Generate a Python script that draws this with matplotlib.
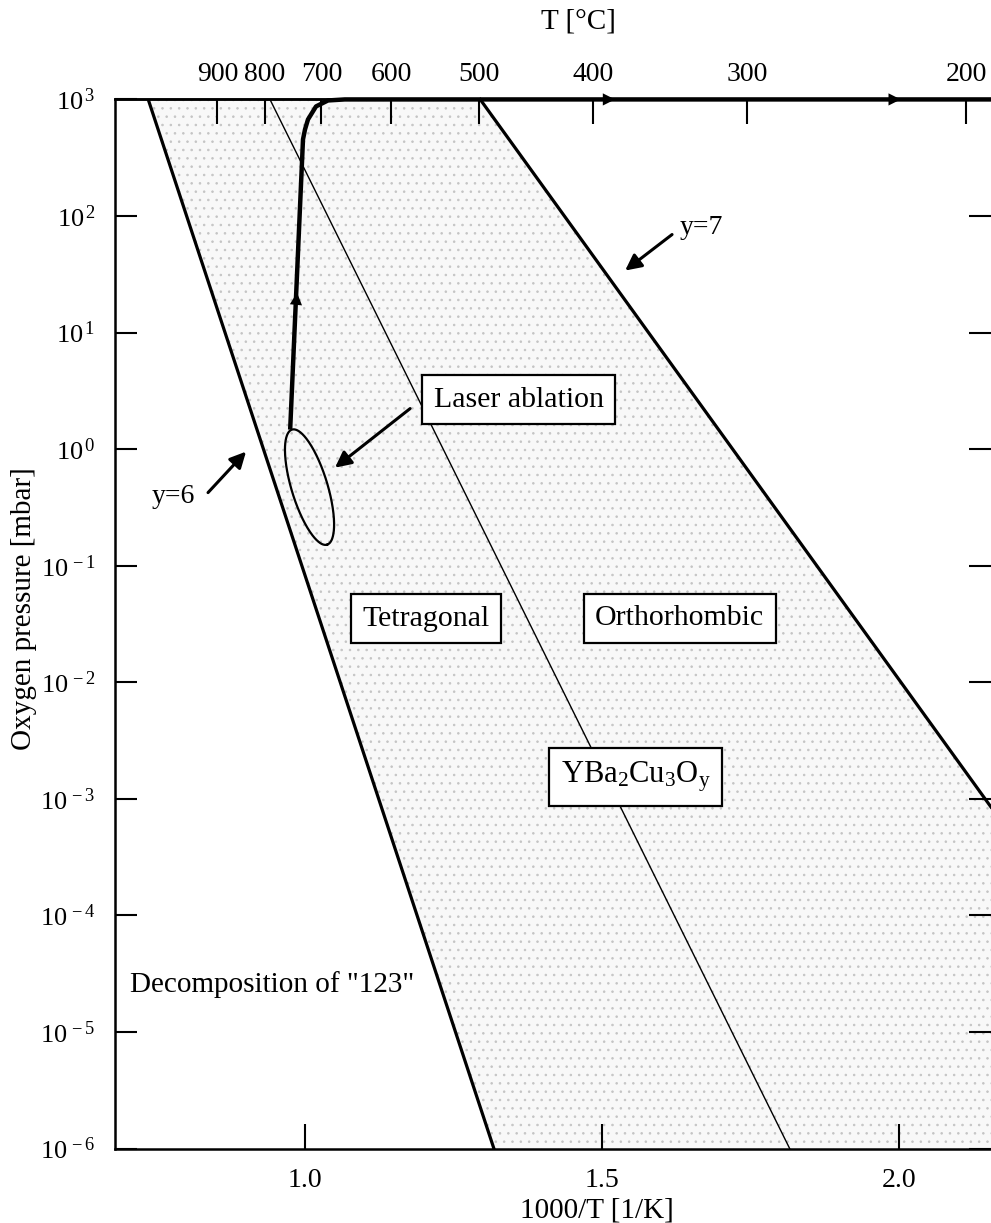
import numpy as np
import matplotlib.pyplot as plt
from matplotlib.ticker import FixedLocator, NullLocator, FuncFormatter

plt.rcParams['font.family'] = ['Liberation Serif', 'DejaVu Serif']
plt.rcParams['mathtext.fontset'] = 'custom'
plt.rcParams['mathtext.rm'] = 'Liberation Serif'
plt.rcParams['mathtext.it'] = 'Liberation Serif:italic'
plt.rcParams['hatch.linewidth'] = 0.6

# axes ranges and ticks
x_lim = (0.68, 2.155)
p_lim = (1e-6, 1e3)
x_ticks = [1.0, 1.5, 2.0]
p_exponents = list(range(-6, 4))
t_celsius = [900, 800, 700, 600, 500, 400, 300, 200]

# phase boundaries: 1000/T vs oxygen pressure
decomp_x = [0.736, 1.318]
decomp_p = [1e3, 1e-6]
tetra_ortho_x = [0.941, 1.816]
tetra_ortho_p = [1e3, 1e-6]
y7_x = [1.295, 2.155]
y7_p = [1e3, 8.5e-4]

# process path (laser ablation -> oxygen load -> cooling)
path_x = [0.975, 0.9966, 1.000, 1.005, 1.0185, 1.0387, 1.067, 2.155]
path_p = [1.47, 454, 553, 673, 871, 980, 1000, 1000]
arrow_x = [0.9866, 1.522, 2.003]
arrow_p = [22.0, 1000, 1000]

# laser ablation window (ellipse in 1000/T, log p)
ell_center = (1.0076, -0.326)
ell_major = (0.0295, -0.4936)
ell_minor = (0.029, 0.0447)

fig = plt.figure(figsize=(9.91, 12.23), dpi=100)
ax = fig.add_axes([0.116, 0.0609, 0.884, 0.8578])
ax.set_yscale('log')
ax.set_xlim(*x_lim)
ax.set_ylim(*p_lim)

# stippled stability region of YBa2Cu3Oy
logs = np.linspace(np.log10(p_lim[0]), np.log10(p_lim[1]), 300)
xl = np.interp(logs, np.log10(decomp_p)[::-1], decomp_x[::-1])
xr = np.interp(logs, np.log10(y7_p)[::-1], y7_x[::-1], left=x_lim[1])
ax.fill_betweenx(10 ** logs, xl, xr, facecolor='#f8f8f8', edgecolor='#c4c4c4',
                 hatch='..', linewidth=0, zorder=0)

ax.plot(decomp_x, decomp_p, color='black', lw=2.3, zorder=2)
ax.plot(tetra_ortho_x, tetra_ortho_p, color='black', lw=1.0, zorder=2)
ax.plot(y7_x, y7_p, color='black', lw=2.3, zorder=2, clip_on=False)

ax.plot(path_x, path_p, color='black', lw=3.2, zorder=3, clip_on=False,
        solid_capstyle='butt')
logp_path = np.log10(path_p)
for xa, pa in zip(arrow_x, arrow_p):
    if pa < 1000:
        lt = np.log10(pa) - 0.15
        xt = np.interp(lt, logp_path[:2], path_x[:2])
        start = (xt, 10 ** lt)
    else:
        start = (xa - 0.02, pa)
    ax.annotate('', xy=(xa, pa), xytext=start, zorder=4,
                arrowprops=dict(arrowstyle='-|>', color='black', lw=0,
                                mutation_scale=22, shrinkA=0, shrinkB=0))

t = np.linspace(0, 2 * np.pi, 300)
ex = ell_center[0] + ell_major[0] * np.cos(t) + ell_minor[0] * np.sin(t)
elog = ell_center[1] + ell_major[1] * np.cos(t) + ell_minor[1] * np.sin(t)
ax.plot(ex, 10 ** elog, color='black', lw=1.6, zorder=3)

# annotations
arrow_kw = dict(arrowstyle='-|>', color='black', lw=2.2, mutation_scale=24,
                shrinkA=0, shrinkB=0)
ax.annotate('', xy=(0.9007, 10 ** -0.0215), xytext=(0.8367, 10 ** -0.373),
            arrowprops=arrow_kw)
ax.text(0.778, 10 ** -0.408, 'y=6', fontsize=20, ha='center', va='center')
ax.annotate('', xy=(1.539, 10 ** 1.532), xytext=(1.618, 10 ** 1.841),
            arrowprops=arrow_kw)
ax.text(1.668, 10 ** 1.901, 'y=7', fontsize=20, ha='center', va='center')
ax.annotate('', xy=(1.0505, 10 ** -0.159), xytext=(1.177, 10 ** 0.348),
            arrowprops=arrow_kw)

box = dict(boxstyle='square,pad=0.38', fc='white', ec='black', lw=1.6)
ax.text(1.360, 10 ** 0.425, 'Laser ablation', fontsize=21.5, ha='center',
        va='center', bbox=box, zorder=5)
ax.text(1.2037, 10 ** -1.455, 'Tetragonal', fontsize=21.5, ha='center',
        va='center', bbox=box, zorder=5)
ax.text(1.631, 10 ** -1.451, 'Orthorhombic', fontsize=21.5, ha='center',
        va='center', bbox=box, zorder=5)
ax.text(1.557, 10 ** -2.811, r'$\mathregular{YBa_2Cu_3O_y}$', fontsize=22,
        ha='center', va='center', bbox=box, zorder=5)
ax.text(0.944, 10 ** -4.597, 'Decomposition of "123"', fontsize=21,
        ha='center', va='center', zorder=5)

# axes styling
for s in ['left', 'bottom', 'top']:
    ax.spines[s].set_linewidth(1.8)
ax.spines['right'].set_visible(False)
ax.xaxis.set_major_locator(FixedLocator(x_ticks))
ax.xaxis.set_minor_locator(NullLocator())
ax.xaxis.set_major_formatter(FuncFormatter(lambda v, pos: '%.1f' % v))
ax.yaxis.set_major_locator(FixedLocator([10.0 ** e for e in p_exponents]))
ax.yaxis.set_minor_locator(NullLocator())
ax.yaxis.set_major_formatter(FuncFormatter(
    lambda v, pos: r'$\mathregular{10^{\,%d}}$' % round(np.log10(v))))
ax.tick_params(axis='x', direction='in', length=18, width=1.5, pad=14,
               labelsize=20, top=False)
ax.tick_params(axis='y', direction='in', length=16, width=1.5, pad=14,
               labelsize=19, right=True)

ax.set_xlabel('1000/T [1/K]', fontsize=21)
ax.xaxis.set_label_coords(0.55, -0.047)
ax.set_ylabel('Oxygen pressure [mbar]', fontsize=21)
ax.yaxis.set_label_coords(-0.089, 0.515)

# top temperature axis
ax2 = ax.twiny()
ax2.set_xlim(*x_lim)
for s in ['left', 'bottom', 'right']:
    ax2.spines[s].set_visible(False)
ax2.spines['top'].set_linewidth(1.8)
ax2.set_xticks([1000.0 / (tc + 273.15) for tc in t_celsius])
ax2.set_xticklabels([str(tc) for tc in t_celsius])
ax2.xaxis.set_minor_locator(NullLocator())
ax2.tick_params(axis='x', direction='in', length=18, width=1.5, pad=9,
                labelsize=20)
ax2.set_xlabel('T [\u00b0C]', fontsize=21)
ax2.xaxis.set_label_coords(0.5285, 1.068)

fig.savefig('out.png', dpi=100)
